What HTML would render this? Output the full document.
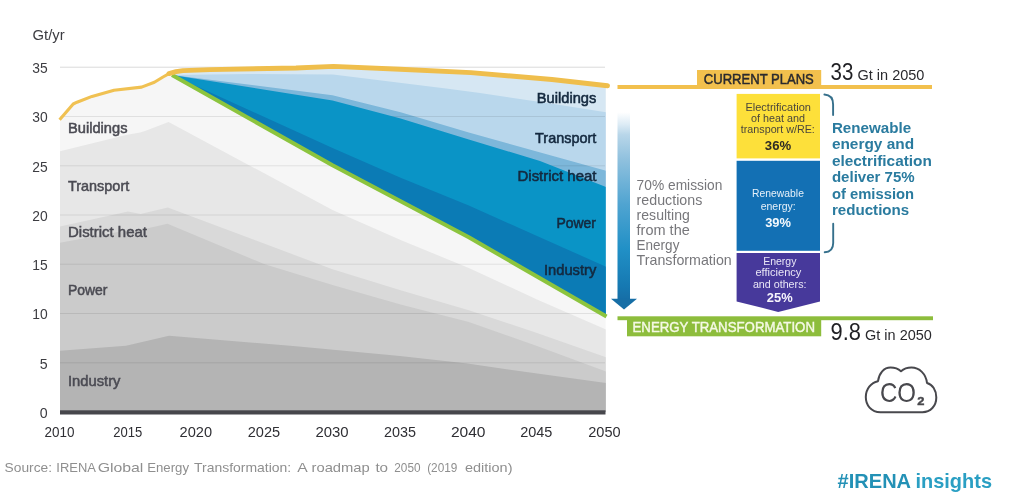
<!DOCTYPE html>
<html lang="en"><head><meta charset="utf-8"><title>IRENA insights – energy-related CO2 emissions</title>
<style>
html,body{margin:0;padding:0;background:#fff;}
body{width:1024px;height:498px;overflow:hidden;font-family:"Liberation Sans",sans-serif;}
svg{display:block;}
</style></head><body>
<svg width="1024" height="498" viewBox="0 0 1024 498" font-family="'Liberation Sans', sans-serif">
<defs><clipPath id="cc"><rect x="60" y="40" width="545.7" height="374.5"/></clipPath><linearGradient id="ag" x1="0" y1="0" x2="0" y2="1"><stop offset="0" stop-color="#ffffff"/><stop offset="0.08" stop-color="#ffffff"/><stop offset="0.14" stop-color="#dcebf5"/><stop offset="0.19" stop-color="#b8d6e9"/><stop offset="0.31" stop-color="#90c1de"/><stop offset="0.53" stop-color="#50a4d1"/><stop offset="0.75" stop-color="#2190c6"/><stop offset="0.93" stop-color="#1679b2"/><stop offset="1" stop-color="#166ea6"/></linearGradient></defs>
<g clip-path="url(#cc)">
<polygon points="59.6,119.8 73.2,104.0 77.0,102.2 92.0,96.4 114.0,90.2 141.6,87.1 154.4,82.3 163.0,77.0 169.0,73.6 176.0,71.6 183.0,70.6 210.0,69.6 296.0,68.0 333.5,66.4 400.0,69.3 471.0,72.6 552.0,79.5 607.5,85.8 606.0,412.0 60.0,412.0" fill="#f6f6f6" />
<polygon points="60.0,151.2 126.0,135.0 140.0,132.6 145.0,131.0 168.6,122.0 332.5,210.0 400.6,240.0 468.8,268.0 537.0,299.5 606.0,329.6 606.0,412.0 60.0,412.0" fill="#e7e7e7" />
<polygon points="60.0,226.4 116.8,214.0 128.0,211.6 140.7,214.0 167.8,207.5 332.5,269.2 400.6,290.2 468.8,310.3 537.0,333.0 606.0,357.2 606.0,412.0 60.0,412.0" fill="#d9d9d9" />
<polygon points="60.0,242.7 126.0,230.5 140.0,230.0 167.5,223.8 264.0,264.0 332.5,285.0 400.6,304.5 468.8,322.0 537.0,346.0 606.0,371.6 606.0,412.0 60.0,412.0" fill="#cbcbcb" />
<polygon points="60.0,350.8 126.0,345.8 169.0,335.8 296.0,346.2 400.0,356.0 467.4,363.4 510.0,369.7 606.0,383.0 606.0,412.0 60.0,412.0" fill="#b4b4b4" />
<polygon points="172.0,74.0 183.0,70.6 210.0,69.6 296.0,68.0 333.5,66.4 400.0,69.3 471.0,72.6 552.0,79.5 607.5,85.8 606.5,316.5 468.8,237.3 332.5,165.3 172.0,75.0" fill="#d6e7f3" />
<polygon points="172.0,75.0 250.0,74.0 333.0,74.5 446.0,88.5 480.0,93.0 552.0,103.8 606.0,112.2 606.5,316.5 468.8,237.3 332.5,165.3 172.0,75.0" fill="#b9d7ec" />
<polygon points="172.0,75.0 332.5,95.3 400.6,112.3 468.8,132.5 606.0,170.7 606.5,316.5 468.8,237.3 332.5,165.3 172.0,75.0" fill="#7db7da" />
<line x1="60" x2="605" y1="362.8" y2="362.8" stroke="#000" stroke-opacity="0.085" stroke-width="1"/>
<line x1="60" x2="605" y1="313.5" y2="313.5" stroke="#000" stroke-opacity="0.085" stroke-width="1"/>
<line x1="60" x2="605" y1="264.2" y2="264.2" stroke="#000" stroke-opacity="0.085" stroke-width="1"/>
<line x1="60" x2="605" y1="215.0" y2="215.0" stroke="#000" stroke-opacity="0.085" stroke-width="1"/>
<line x1="60" x2="605" y1="165.8" y2="165.8" stroke="#000" stroke-opacity="0.085" stroke-width="1"/>
<line x1="60" x2="605" y1="116.5" y2="116.5" stroke="#000" stroke-opacity="0.085" stroke-width="1"/>
<line x1="60" x2="605" y1="67.2" y2="67.2" stroke="#000" stroke-opacity="0.15" stroke-width="1"/>
<polygon points="172.0,75.0 332.5,100.5 400.6,118.5 468.8,139.5 540.0,161.0 606.0,187.0 606.5,316.5 468.8,237.3 332.5,165.3 172.0,75.0" fill="#0a94c6" />
<polygon points="172.0,75.0 332.5,148.0 400.6,177.8 468.8,205.5 537.0,236.0 606.0,266.7 606.5,316.5 468.8,237.3 332.5,165.3 172.0,75.0" fill="#0b7bb5" />
</g>
<polyline points="172.0,75.0 332.5,165.3 468.8,237.3 606.5,316.5" fill="none" stroke="#8cc43e" stroke-width="4" stroke-linejoin="round"/>
<polyline points="59.6,119.8 73.2,104.0 77.0,102.2 92.0,96.4 114.0,90.2 141.6,87.1 154.4,82.3 163.0,77.0 169.0,73.6 176.0,71.6" fill="none" stroke="#f0c152" stroke-width="3.1" stroke-linejoin="round"/>
<polyline points="169.0,73.6 176.0,71.6 183.0,70.6 210.0,69.6 296.0,68.0 333.5,66.4 400.0,69.3 471.0,72.6 552.0,79.5 607.5,85.8" fill="none" stroke="#efbe4c" stroke-width="4.9" stroke-linejoin="round" stroke-linecap="round"/>
<rect x="60" y="410.3" width="545.5" height="4.2" fill="#47474c"/>
<text x="32.5" y="40.1" font-size="15" fill="#3c3c41" textLength="32.1" lengthAdjust="spacingAndGlyphs">Gt/yr</text>
<text x="47.6" y="417.8" font-size="14.8" fill="#3c3c41" text-anchor="end" textLength="7.9" lengthAdjust="spacingAndGlyphs">0</text>
<text x="47.6" y="368.55" font-size="14.8" fill="#3c3c41" text-anchor="end" textLength="7.9" lengthAdjust="spacingAndGlyphs">5</text>
<text x="47.6" y="319.3" font-size="14.8" fill="#3c3c41" text-anchor="end" textLength="15.4" lengthAdjust="spacingAndGlyphs">10</text>
<text x="47.6" y="270.05" font-size="14.8" fill="#3c3c41" text-anchor="end" textLength="15.4" lengthAdjust="spacingAndGlyphs">15</text>
<text x="47.6" y="220.8" font-size="14.8" fill="#3c3c41" text-anchor="end" textLength="15.4" lengthAdjust="spacingAndGlyphs">20</text>
<text x="47.6" y="171.55" font-size="14.8" fill="#3c3c41" text-anchor="end" textLength="15.4" lengthAdjust="spacingAndGlyphs">25</text>
<text x="47.6" y="122.3" font-size="14.8" fill="#3c3c41" text-anchor="end" textLength="15.4" lengthAdjust="spacingAndGlyphs">30</text>
<text x="47.6" y="73.05" font-size="14.8" fill="#3c3c41" text-anchor="end" textLength="15.4" lengthAdjust="spacingAndGlyphs">35</text>
<text x="59.6" y="437.1" font-size="15" fill="#2f2f34" text-anchor="middle" textLength="30" lengthAdjust="spacingAndGlyphs">2010</text>
<text x="127.69999999999999" y="437.1" font-size="15" fill="#2f2f34" text-anchor="middle" textLength="29" lengthAdjust="spacingAndGlyphs">2015</text>
<text x="195.79999999999998" y="437.1" font-size="15" fill="#2f2f34" text-anchor="middle" textLength="32.5" lengthAdjust="spacingAndGlyphs">2020</text>
<text x="263.9" y="437.1" font-size="15" fill="#2f2f34" text-anchor="middle" textLength="32.4" lengthAdjust="spacingAndGlyphs">2025</text>
<text x="332.0" y="437.1" font-size="15" fill="#2f2f34" text-anchor="middle" textLength="33.2" lengthAdjust="spacingAndGlyphs">2030</text>
<text x="400.1" y="437.1" font-size="15" fill="#2f2f34" text-anchor="middle" textLength="32" lengthAdjust="spacingAndGlyphs">2035</text>
<text x="468.2" y="437.1" font-size="15" fill="#2f2f34" text-anchor="middle" textLength="34.6" lengthAdjust="spacingAndGlyphs">2040</text>
<text x="536.3" y="437.1" font-size="15" fill="#2f2f34" text-anchor="middle" textLength="32.2" lengthAdjust="spacingAndGlyphs">2045</text>
<text x="604.4" y="437.1" font-size="15" fill="#2f2f34" text-anchor="middle" textLength="32.4" lengthAdjust="spacingAndGlyphs">2050</text>
<text x="68" y="133" font-size="14.3" fill="#4b4b53" textLength="59.5" lengthAdjust="spacingAndGlyphs" stroke="#4b4b53" stroke-width="0.5">Buildings</text>
<text x="68" y="191.2" font-size="14.3" fill="#4b4b53" textLength="61.2" lengthAdjust="spacingAndGlyphs" stroke="#4b4b53" stroke-width="0.5">Transport</text>
<text x="68" y="237" font-size="14.3" fill="#4b4b53" textLength="79" lengthAdjust="spacingAndGlyphs" stroke="#4b4b53" stroke-width="0.5">District heat</text>
<text x="68" y="295" font-size="14.3" fill="#4b4b53" textLength="39.5" lengthAdjust="spacingAndGlyphs" stroke="#4b4b53" stroke-width="0.5">Power</text>
<text x="68" y="385.5" font-size="14.3" fill="#4b4b53" textLength="52.5" lengthAdjust="spacingAndGlyphs" stroke="#4b4b53" stroke-width="0.5">Industry</text>
<text x="596.3" y="103.4" font-size="14.5" fill="#14293f" text-anchor="end" textLength="59.5" lengthAdjust="spacingAndGlyphs" stroke="#14293f" stroke-width="0.55">Buildings</text>
<text x="596.3" y="143.4" font-size="14.5" fill="#14293f" text-anchor="end" textLength="61.2" lengthAdjust="spacingAndGlyphs" stroke="#14293f" stroke-width="0.55">Transport</text>
<text x="596.5" y="181" font-size="14.5" fill="#14293f" text-anchor="end" textLength="79" lengthAdjust="spacingAndGlyphs" stroke="#14293f" stroke-width="0.55">District heat</text>
<text x="596" y="228" font-size="14.5" fill="#14293f" text-anchor="end" textLength="39.5" lengthAdjust="spacingAndGlyphs" stroke="#14293f" stroke-width="0.55">Power</text>
<text x="596.3" y="275.4" font-size="14.5" fill="#14293f" text-anchor="end" textLength="52.3" lengthAdjust="spacingAndGlyphs" stroke="#14293f" stroke-width="0.55">Industry</text>
<rect x="617.5" y="85" width="314.5" height="4" fill="#f2c04d"/>
<rect x="697" y="70" width="124.2" height="17" fill="#f2c04d"/>
<rect x="617.5" y="316.3" width="315.5" height="3.9" fill="#8dbd3c"/>
<rect x="627" y="317" width="194.2" height="19.3" fill="#8dbd3c"/>
<rect x="617.5" y="96" width="12.5" height="204" fill="url(#ag)"/>
<polygon points="611,298.8 637,298.8 624,309.6" fill="#166ea6"/>
<rect x="736.6" y="93.9" width="83.4" height="64.5" fill="#fde03a"/>
<rect x="736.6" y="160.8" width="83.4" height="90" fill="#1370b4"/>
<polygon points="736.6,253 820,253 820,301.4 778.2,311.9 736.6,301.4" fill="#47399b"/>
<path d="M824.4,94.5 C829.8,94.8 833.1,98 833.1,104.5 L833.1,115" fill="none" stroke="#36708c" stroke-width="1.9" stroke-linecap="round"/>
<path d="M833.2,223.8 L833.2,243 C833.2,248.8 830,252 824.7,252.3" fill="none" stroke="#36708c" stroke-width="1.9" stroke-linecap="round"/>
<path d="M880.5,412.2 C871,412.2 865.8,405 865.8,397 C865.8,389 871,382.5 878,381.2 C879,373 884,367.6 890.5,367.6 C895,367.6 898.5,369 901,371.2 C903.5,369 907,367.5 911.4,367.5 C919.5,367.5 926,374 927,383 C932.5,384.5 936.3,390 936.3,397.5 C936.3,406 930.5,412.2 922.5,412.2 Z" fill="none" stroke="#48484d" stroke-width="2" stroke-linejoin="round"/>
<text x="703.8" y="83.8" font-size="15" fill="#2a2a2e" textLength="110" lengthAdjust="spacingAndGlyphs" stroke="#2a2a2e" stroke-width="0.5">CURRENT PLANS</text>
<text x="632.5" y="332.2" font-size="15" fill="#f5f9e4" textLength="182.5" lengthAdjust="spacingAndGlyphs" stroke="#f5f9e4" stroke-width="0.45">ENERGY TRANSFORMATION</text>
<text x="830.6" y="79.6" font-size="23.4" fill="#1f1f23" textLength="22.8" lengthAdjust="spacingAndGlyphs">33</text>
<text x="857.5" y="79.8" font-size="15" fill="#2a2a2e" textLength="66.9" lengthAdjust="spacingAndGlyphs">Gt in 2050</text>
<text x="830.6" y="340.4" font-size="23.6" fill="#1f1f23" textLength="30.4" lengthAdjust="spacingAndGlyphs">9.8</text>
<text x="865.1" y="340.4" font-size="15" fill="#2a2a2e" textLength="66.7" lengthAdjust="spacingAndGlyphs">Gt in 2050</text>
<text x="778.2" y="111.2" font-size="10.4" fill="#4a463c" text-anchor="middle" textLength="65.5" lengthAdjust="spacingAndGlyphs">Electrification</text>
<text x="778" y="122.3" font-size="10.4" fill="#4a463c" text-anchor="middle" textLength="54" lengthAdjust="spacingAndGlyphs">of heat and</text>
<text x="777.8" y="133.1" font-size="10.4" fill="#4a463c" text-anchor="middle" textLength="74" lengthAdjust="spacingAndGlyphs">transport w/RE:</text>
<text x="778" y="149.5" font-size="13.3" fill="#2e2b25" font-weight="bold" text-anchor="middle" textLength="26.3" lengthAdjust="spacingAndGlyphs">36%</text>
<text x="778" y="197.1" font-size="10.4" fill="#e6f0f9" text-anchor="middle" textLength="51.8" lengthAdjust="spacingAndGlyphs">Renewable</text>
<text x="778.2" y="209.8" font-size="10.4" fill="#e6f0f9" text-anchor="middle" textLength="35" lengthAdjust="spacingAndGlyphs">energy:</text>
<text x="778.1" y="226.8" font-size="13.3" fill="#f4f9fd" font-weight="bold" text-anchor="middle" textLength="25.8" lengthAdjust="spacingAndGlyphs">39%</text>
<text x="779.8" y="265.4" font-size="10.4" fill="#e9e6f6" text-anchor="middle" textLength="33.3" lengthAdjust="spacingAndGlyphs">Energy</text>
<text x="778.4" y="275.9" font-size="10.4" fill="#e9e6f6" text-anchor="middle" textLength="46" lengthAdjust="spacingAndGlyphs">efficiency</text>
<text x="779.7" y="287.5" font-size="10.4" fill="#e9e6f6" text-anchor="middle" textLength="53.6" lengthAdjust="spacingAndGlyphs">and others:</text>
<text x="779.7" y="302.2" font-size="13.3" fill="#f6f4fc" font-weight="bold" text-anchor="middle" textLength="25.8" lengthAdjust="spacingAndGlyphs">25%</text>
<text x="636.6" y="190.2" font-size="14.3" fill="#77777b" textLength="85.7" lengthAdjust="spacingAndGlyphs">70% emission</text>
<text x="636.6" y="205.14999999999998" font-size="14.3" fill="#77777b" textLength="65.7" lengthAdjust="spacingAndGlyphs">reductions</text>
<text x="636.6" y="220.1" font-size="14.3" fill="#77777b" textLength="53.2" lengthAdjust="spacingAndGlyphs">resulting</text>
<text x="636.6" y="235.04999999999998" font-size="14.3" fill="#77777b" textLength="53.2" lengthAdjust="spacingAndGlyphs">from the</text>
<text x="636.6" y="250.0" font-size="14.3" fill="#77777b" textLength="42.8" lengthAdjust="spacingAndGlyphs">Energy</text>
<text x="636.6" y="264.95" font-size="14.3" fill="#77777b" textLength="95.2" lengthAdjust="spacingAndGlyphs">Transformation</text>
<text x="831.9" y="133.0" font-size="15.3" fill="#2a7b9f" font-weight="bold" textLength="79.2" lengthAdjust="spacingAndGlyphs">Renewable</text>
<text x="831.9" y="149.45" font-size="15.3" fill="#2a7b9f" font-weight="bold" textLength="82.2" lengthAdjust="spacingAndGlyphs">energy and</text>
<text x="831.9" y="165.9" font-size="15.3" fill="#2a7b9f" font-weight="bold" textLength="100" lengthAdjust="spacingAndGlyphs">electrification</text>
<text x="831.9" y="182.35" font-size="15.3" fill="#2a7b9f" font-weight="bold" textLength="82.8" lengthAdjust="spacingAndGlyphs">deliver 75%</text>
<text x="831.9" y="198.8" font-size="15.3" fill="#2a7b9f" font-weight="bold" textLength="82.2" lengthAdjust="spacingAndGlyphs">of emission</text>
<text x="831.9" y="215.25" font-size="15.3" fill="#2a7b9f" font-weight="bold" textLength="77.4" lengthAdjust="spacingAndGlyphs">reductions</text>
<text x="880" y="402.2" font-size="27.5" fill="#48484d" textLength="36" lengthAdjust="spacingAndGlyphs">CO</text>
<text x="917.2" y="405.3" font-size="11" fill="#48484d" font-weight="bold" textLength="7.2" lengthAdjust="spacingAndGlyphs" stroke="#48484d" stroke-width="0.4">2</text>
<text y="472.2" font-size="13.6" fill="#8f8f8f"><tspan x="4.6" textLength="47.4" lengthAdjust="spacingAndGlyphs">Source:</tspan> <tspan x="56.3" textLength="38.9" lengthAdjust="spacingAndGlyphs">IRENA</tspan> <tspan x="97.7" textLength="45.7" lengthAdjust="spacingAndGlyphs">Global</tspan> <tspan x="147.2" textLength="41.8" lengthAdjust="spacingAndGlyphs">Energy</tspan> <tspan x="194" textLength="97.2" lengthAdjust="spacingAndGlyphs">Transformation:</tspan> <tspan x="297.3" textLength="9.6" lengthAdjust="spacingAndGlyphs">A</tspan> <tspan x="311.5" textLength="58.3" lengthAdjust="spacingAndGlyphs">roadmap</tspan> <tspan x="375.4" textLength="12.7" lengthAdjust="spacingAndGlyphs">to</tspan> <tspan x="394.3" textLength="26.2" lengthAdjust="spacingAndGlyphs">2050</tspan> <tspan x="427.2" textLength="30.2" lengthAdjust="spacingAndGlyphs">(2019</tspan> <tspan x="465" textLength="47.5" lengthAdjust="spacingAndGlyphs">edition)</tspan></text>
<text y="488.2" font-size="20.6" font-weight="bold"><tspan x="837.6" textLength="73.5" lengthAdjust="spacingAndGlyphs" fill="#2391b6">#IRENA</tspan><tspan x="915.5" textLength="76.5" lengthAdjust="spacingAndGlyphs" fill="#2a9fc3">insights</tspan></text>
</svg>
</body></html>
